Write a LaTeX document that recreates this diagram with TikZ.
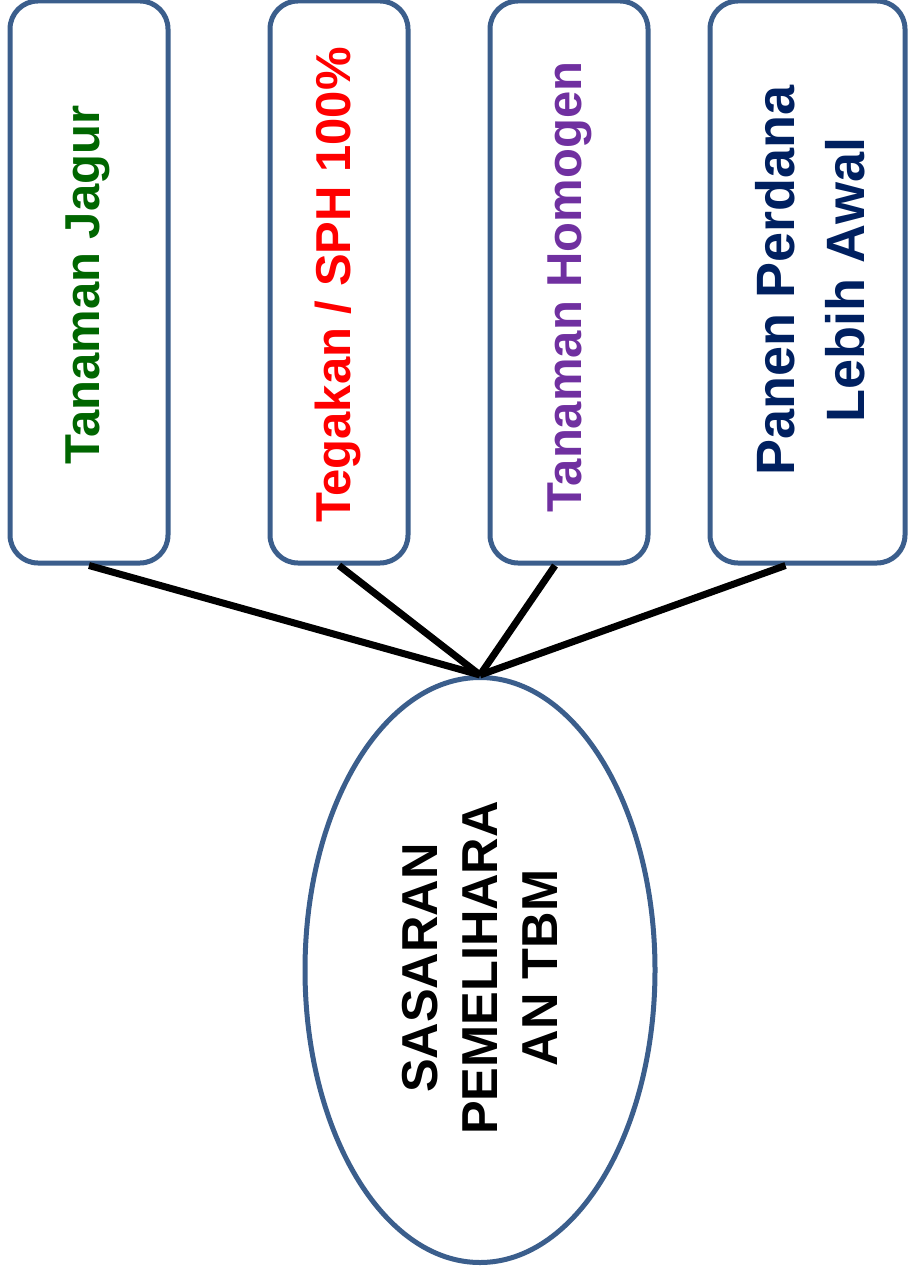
\documentclass[tikz,border=0pt]{standalone}
\usepackage{fontspec}
\setmainfont{Liberation Sans}
\usetikzlibrary{shapes.geometric}
\definecolor{bordc}{HTML}{3B5E8C}
\definecolor{tgreen}{HTML}{006600}
\definecolor{tred}{HTML}{FF0000}
\definecolor{tpurple}{HTML}{7030A0}
\definecolor{tnavy}{HTML}{002060}
\tikzset{
  boxst/.style={draw=bordc, line width=5pt, rounded corners=28pt, fill=white, inner sep=0pt},
  lbl/.style={rotate=90, align=center, font=\bfseries\fontsize{49}{56}\selectfont, inner sep=0pt},
  conn/.style={line width=7pt, black},
}
\begin{document}
\begin{tikzpicture}[x=1pt, y=-1pt]
\useasboundingbox (0,0) rectangle (908,1281);
\node[boxst, minimum width=158pt, minimum height=562pt] (b1) at (89,282) {};
\node[boxst, minimum width=138pt, minimum height=562pt] (b2) at (339,282) {};
\node[boxst, minimum width=158pt, minimum height=562pt] (b3) at (569,282) {};
\node[boxst, minimum width=195pt, minimum height=562pt] (b4) at (807.5,282) {};
\node[draw=bordc, line width=5pt, ellipse, minimum width=350pt, minimum height=585pt, inner sep=0pt] (e) at (480,970) {};
\node[lbl, text=tgreen] (t1) at (88,285) {Tanaman Jagur};
\node[lbl, text=tred] (t2) at (338,285) {Tegakan / SPH 100\%};
\node[lbl, text=tpurple] (t3) at (570,287) {Tanaman Homogen};
\node[lbl, text=tnavy, font=\bfseries\fontsize{54}{70}\selectfont] (t4) at (810,280) {Panen Perdana\\Lebih Awal};
\node[lbl, text=black, font=\bfseries\fontsize{50.5}{60}\selectfont] (t5) at (480,968) {SASARAN\\PEMELIHARA\\AN TBM};
\draw[conn] (b1.south) -- (e.north);
\draw[conn] (b2.south) -- (e.north);
\draw[conn] ([xshift=-14pt]b3.south) -- (e.north);
\draw[conn] ([xshift=-22pt]b4.south) -- (e.north);
\end{tikzpicture}
\end{document}
